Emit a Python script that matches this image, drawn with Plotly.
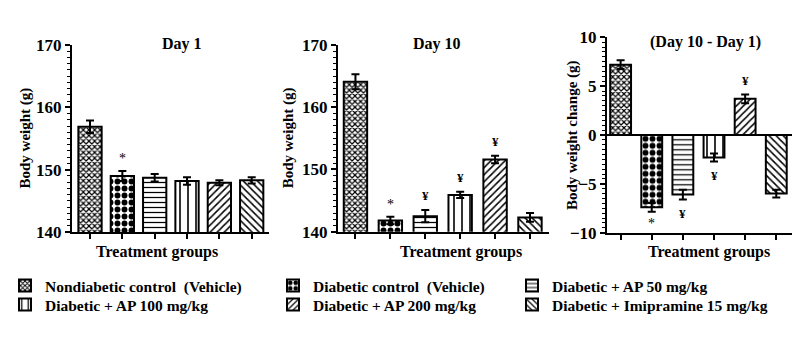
import plotly.graph_objects as go

groups = ["Nondiabetic control\u00a0 (Vehicle)", "Diabetic control\u00a0 (Vehicle)",
          "Diabetic + AP 50 mg/kg", "Diabetic + AP 100 mg/kg",
          "Diabetic + AP 200 mg/kg", "Diabetic + Imipramine 15 mg/kg"]
day1_mean = [156.9, 149.0, 148.7, 148.2, 147.9, 148.3]
day1_se = [1.0, 0.8, 0.6, 0.6, 0.4, 0.5]
day10_mean = [164.1, 141.8, 142.5, 145.9, 151.6, 142.3]
day10_se = [1.2, 0.6, 1.0, 0.5, 0.6, 0.7]
change_mean = [7.2, -7.4, -6.1, -2.3, 3.7, -6.0]
change_se = [0.45, 0.45, 0.5, 0.4, 0.45, 0.4]
day1_marks = ["", "*", "", "", "", ""]
day10_marks = ["", "*", "¥", "¥", "¥", ""]
change_marks = ["", "*", "¥", "¥", "¥", ""]
panel_titles = ["Day 1", "Day 10", "(Day 10 - Day 1)"]
y_titles = ["Body weight (g)", "Body weight (g)", "Body weight change (g)"]
x_title = "Treatment groups"

W, H = 804, 338
FONT = "Liberation Serif"
patterns = [dict(shape="x", size=4, solidity=0.5),
            dict(shape=".", size=7, solidity=0.55),
            dict(shape="-", size=5, solidity=0.25),
            dict(shape="|", size=8, solidity=0.2),
            dict(shape="/", size=5, solidity=0.3),
            dict(shape="\\", size=5, solidity=0.3)]
legend_ids = ["legend", "legend2", "legend3", "legend4", "legend5", "legend6"]
# legend placement (px): left x, top y
legend_pos = [(5, 269), (273, 269), (512, 269), (5, 288), (273, 288), (512, 288)]

panels = [
    dict(x0=72, x1=269, y0=45, y1=232, rng=[-0.557, 5.535], yr=[140, 170], dt=10, mdt=1, width=0.72),
    dict(x0=338, x1=549, y0=45, y1=231.7, rng=[-0.5, 5.545], yr=[140, 170], dt=10, mdt=1, width=0.67),
    dict(x0=607, x1=792, y0=37.3, y1=232.7, rng=[-0.437, 5.505], yr=[-10, 10], dt=5, mdt=0.5, width=0.67),
]
data = [(day1_mean, day1_se, day1_marks), (day10_mean, day10_se, day10_marks),
        (change_mean, change_se, change_marks)]

fig = go.Figure()
layout = dict(width=W, height=H, margin=dict(l=0, r=0, t=0, b=0, autoexpand=False),
              paper_bgcolor="white", plot_bgcolor="white", barmode="overlay",
              font=dict(family=FONT, color="black", size=15, weight="bold"),
              showlegend=True)
annotations = []
for p, (pan, (mean, se, marks)) in enumerate(zip(panels, data)):
    xa = "x" if p == 0 else f"x{p+1}"
    ya = "y" if p == 0 else f"y{p+1}"
    for i in range(6):
        fig.add_trace(go.Bar(
            x=[i], y=[mean[i]], name=groups[i], width=pan["width"],
            xaxis=xa, yaxis=ya, legend=legend_ids[i], showlegend=(p == 0),
            marker=dict(color="white", line=dict(color="black", width=2),
                        pattern=dict(fgcolor="black", bgcolor="white", fgopacity=1, **patterns[i])),
            error_y=dict(type="data", array=[se[i]], color="black", thickness=2, width=4),
        ))
        if marks[i]:
            up = mean[i] >= 0
            yv = mean[i] + se[i] if up else mean[i] - se[i]
            off = 14 if marks[i] == "¥" else 12
            annotations.append(dict(
                x=i, y=yv, xref=xa, yref=ya, text=marks[i], showarrow=False,
                yanchor="middle", yshift=off if up else -off,
                font=dict(size=13 if marks[i] == "¥" else 14,
                          weight="bold" if marks[i] == "¥" else "normal")))
    key = "" if p == 0 else str(p + 1)
    layout["xaxis" + key] = dict(
        domain=[pan["x0"] / W, pan["x1"] / W], range=pan["rng"], anchor=ya, automargin=False,
        showticklabels=False, ticks="outside", ticklen=5, tickwidth=1.5, tickcolor="black",
        tickmode="array", tickvals=list(range(6)),
        showline=True, linecolor="black", linewidth=2, showgrid=False, zeroline=False)
    layout["yaxis" + key] = dict(
        domain=[1 - pan["y1"] / H, 1 - pan["y0"] / H], range=pan["yr"], anchor=xa, automargin=False,
        dtick=pan["dt"], tick0=pan["yr"][0], ticks="outside", ticklen=5, tickwidth=2,
        tickcolor="black", tickfont=dict(size=17, family=FONT, weight="bold"),
        minor=dict(dtick=pan["mdt"], ticks="outside", ticklen=3, tickwidth=1.2, tickcolor="black"),
        showline=True, linecolor="black", linewidth=2, showgrid=False,
        zeroline=(p == 2), zerolinecolor="black", zerolinewidth=2)
    annotations.append(dict(x=[182, 437, 705][p] / W, y=1 - [44, 44, 41.7][p] / H,
                            xref="paper", yref="paper",
                            text=panel_titles[p], showarrow=False, xanchor="center", yanchor="middle",
                            font=dict(size=16, weight="bold")))
    annotations.append(dict(x=[157, 461, 709][p] / W, y=1 - 251.7 / H, xref="paper", yref="paper",
                            text=x_title, showarrow=False, xanchor="center", yanchor="middle",
                            font=dict(size=16, weight="bold")))
    annotations.append(dict(x=[25, 288, 573][p] / W, y=1 - ((pan["y0"] + pan["y1"]) / 2) / H,
                            xref="paper", yref="paper", text=y_titles[p], showarrow=False,
                            textangle=-90, xanchor="center", yanchor="middle",
                            font=dict(size=15, weight="bold")))

for lid, (lx, ly) in zip(legend_ids, legend_pos):
    layout[lid] = dict(x=lx / W, y=1 - ly / H, orientation="v", yanchor="top", xanchor="left",
                       bgcolor="rgba(0,0,0,0)", font=dict(size=15.5, family=FONT, weight="bold"))
layout["annotations"] = annotations
fig.update_layout(**layout)
fig.write_html("out.html", config={"displayModeBar": False},
               post_script="document.body.style.margin='0px';document.body.style.overflow='hidden';")
